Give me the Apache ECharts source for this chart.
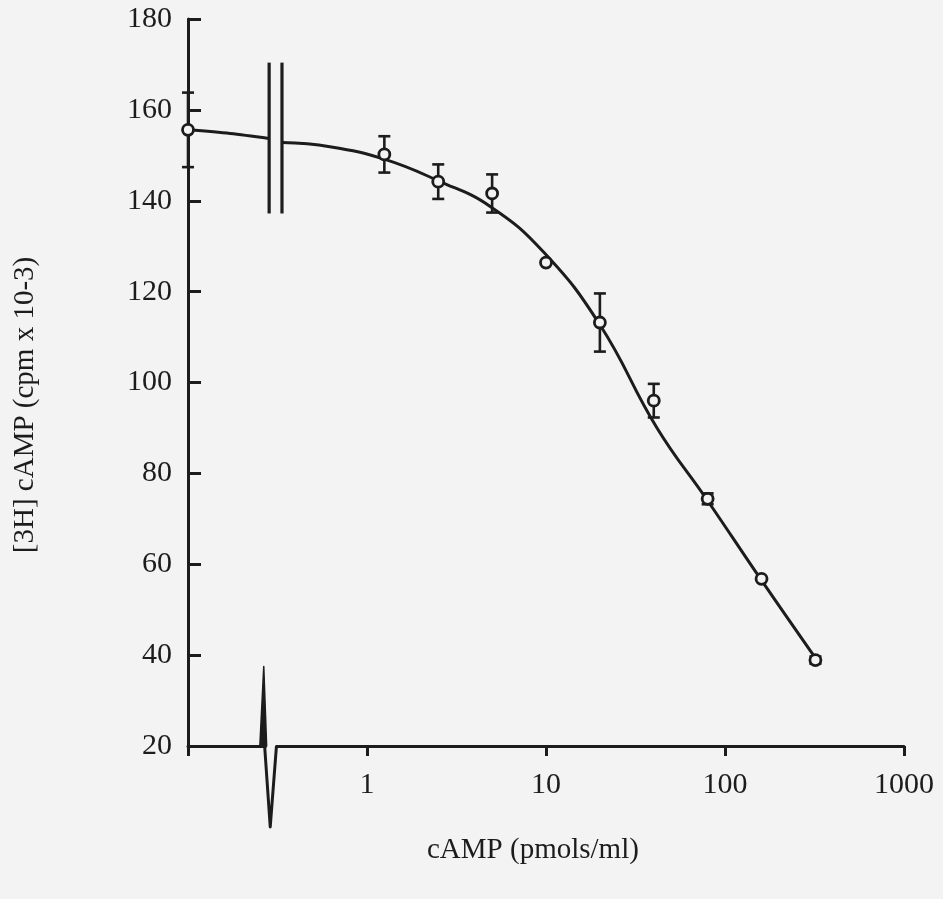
<!DOCTYPE html>
<html>
<head>
<meta charset="utf-8">
<script src="https://cdn.jsdelivr.net/npm/echarts@6/dist/echarts.min.js"></script>
<style>
html,body{margin:0;padding:0;background:#f3f3f3;}
#chart{width:943px;height:899px;}
</style>
</head>
<body>
<div id="chart"></div>
<script>
// cAMP standard (pmols/ml); 0.1 stands for the "zero" point at the axis origin
const concentrations = [0.1, 1.25, 2.5, 5, 10, 20, 40, 80, 160, 320];
const bound = [155.6, 150.2, 144.2, 141.6, 126.4, 113.2, 96.0, 74.4, 56.8, 38.9];
const sem = [8.2, 4.0, 3.8, 4.2, 0, 6.4, 3.7, 1.2, 0, 0.8];

// fitted curve
const fitLeftX = [0.1, 0.172, 0.284];
const fitLeftY = [155.6, 154.8, 153.7];
const fitRightX = [0.335, 0.62, 1.26, 2.5, 4.9, 9.75, 20, 41.7, 79.3, 159, 326];
const fitRightY = [152.8, 151.9, 149.1, 144.4, 138.7, 128.6, 112.7, 90.0, 74.2, 56.6, 38.9];

// axis-break decorations (data coordinates)
const breakLinesX = [0.284, 0.335];
const breakLinesY = [137.2, 170.4];
const wedgeX = [0.252, 0.265, 0.275];
const wedgeY = [20, 37.5, 20];
const vX = [0.268, 0.288, 0.312];
const vY = [20, 2.2, 20];

const yTickMin = 20, yTickMax = 180, yTickStep = 20;

const ink = '#1c1c1c';
const bg = '#f3f3f3';
const font = '"Liberation Serif", "Times New Roman", serif';

const chart = echarts.init(document.getElementById('chart'), null, {renderer: 'canvas'});

const pointData = concentrations.map((c, i) => [c, bound[i]]);
const errData = concentrations.map((c, i) => [c, bound[i] - sem[i], bound[i] + sem[i]]).filter((d, i) => sem[i] > 0);

chart.setOption({
  backgroundColor: bg,
  animation: false,
  grid: {left: 188, right: 39, top: 19, bottom: 153, containLabel: false},
  xAxis: {
    type: 'log', logBase: 10, min: 0.1, max: 1000,
    axisLine: {show: true, lineStyle: {color: ink, width: 3}},
    axisTick: {show: true, inside: false, length: 10, lineStyle: {color: ink, width: 3}},
    minorTick: {show: false},
    splitLine: {show: false},
    axisLabel: {
      margin: 24, color: ink, fontFamily: font, fontSize: 30,
      formatter: v => (v < 0.5 ? '' : String(Math.round(v)))
    }
  },
  yAxis: {
    type: 'value', min: yTickMin, max: yTickMax, interval: yTickStep,
    axisLine: {show: true, lineStyle: {color: ink, width: 3}},
    axisTick: {show: true, inside: true, length: 13, lineStyle: {color: ink, width: 3}},
    splitLine: {show: false},
    axisLabel: {margin: 16, color: ink, fontFamily: font, fontSize: 30}
  },
  graphic: [
    {type: 'text', left: 533 - 106, top: 836,
     style: {text: 'cAMP (pmols/ml)', font: '29px ' + font, fill: ink}},
    {type: 'text', x: 25, y: 405, rotation: Math.PI / 2,
     style: {text: '[3H] cAMP (cpm x 10-3)', font: '29px ' + font, fill: ink, align: 'center', verticalAlign: 'middle'}}
  ],
  series: [
    {
      name: 'fitLeft', type: 'line', smooth: 0.3, showSymbol: false, clip: false,
      data: fitLeftX.map((x, i) => [x, fitLeftY[i]]),
      lineStyle: {color: ink, width: 3}, z: 3
    },
    {
      name: 'fitRight', type: 'line', smooth: 0.45, showSymbol: false, clip: false,
      data: fitRightX.map((x, i) => [x, fitRightY[i]]),
      lineStyle: {color: ink, width: 3}, z: 3
    },
    {
      name: 'errors', type: 'custom', clip: false, z: 4,
      data: errData,
      renderItem: (params, api) => {
        const x = api.value(0);
        const lo = api.coord([x, api.value(1)]);
        const hi = api.coord([x, api.value(2)]);
        const w = 6;
        const st = {stroke: ink, lineWidth: 2.6};
        return {type: 'group', children: [
          {type: 'line', shape: {x1: lo[0], y1: lo[1], x2: hi[0], y2: hi[1]}, style: st},
          {type: 'line', shape: {x1: lo[0] - w, y1: lo[1], x2: lo[0] + w, y2: lo[1]}, style: st},
          {type: 'line', shape: {x1: hi[0] - w, y1: hi[1], x2: hi[0] + w, y2: hi[1]}, style: st}
        ]};
      }
    },
    {
      name: 'points', type: 'scatter', clip: false, z: 5,
      data: pointData, symbol: 'circle', symbolSize: 11,
      itemStyle: {color: bg, opacity: 1, borderColor: ink, borderWidth: 2.8}
    },
    {
      name: 'breakLines', type: 'custom', clip: false, z: 6,
      data: breakLinesX.map(x => [x, breakLinesY[0], breakLinesY[1]]),
      renderItem: (params, api) => {
        const a = api.coord([api.value(0), api.value(1)]);
        const b = api.coord([api.value(0), api.value(2)]);
        return {type: 'line', shape: {x1: a[0], y1: a[1], x2: b[0], y2: b[1]},
                style: {stroke: ink, lineWidth: 3.2}};
      }
    },
    {
      name: 'axisBreak', type: 'custom', clip: false, z: 6,
      data: [0],
      renderItem: (params, api) => {
        const wedge = wedgeX.map((x, i) => api.coord([x, wedgeY[i]]));
        const v = vX.map((x, i) => api.coord([x, vY[i]]));
        return {type: 'group', children: [
          {type: 'rect', shape: {x: wedge[2][0], y: v[0][1] - 3, width: v[2][0] - wedge[2][0] - 1, height: 6},
           style: {fill: bg}},
          {type: 'polygon', shape: {points: wedge},
           style: {fill: ink, stroke: ink, lineWidth: 1.5, lineJoin: 'round'}},
          {type: 'polyline', shape: {points: v},
           style: {stroke: ink, lineWidth: 3, lineJoin: 'round', fill: null}}
        ]};
      }
    }
  ]
});
</script>
</body>
</html>
